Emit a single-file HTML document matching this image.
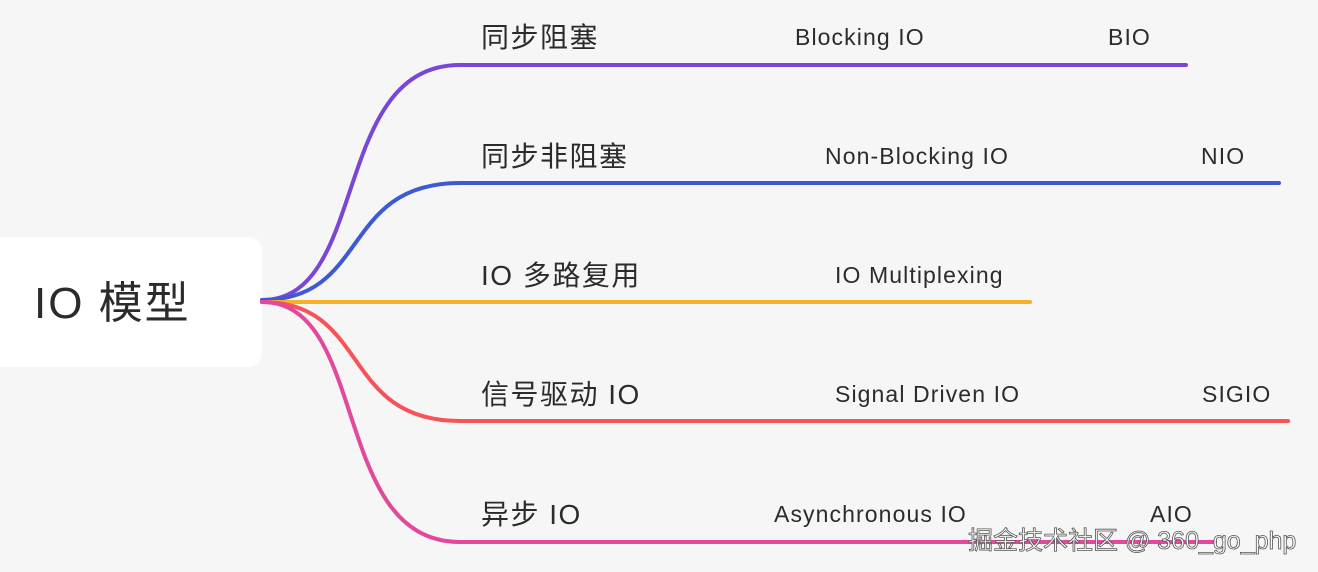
<!DOCTYPE html>
<html><head><meta charset="utf-8"><style>
body{margin:0;background:#f6f6f6;}
svg{display:block}
text{font-family:"Liberation Sans","Noto Sans CJK SC",sans-serif;fill:#2b2b2b}
.z{font-size:28px;letter-spacing:1.5px}
.e{font-size:23px;letter-spacing:1.1px}
</style></head><body>
<svg width="1318" height="572" viewBox="0 0 1318 572">
<rect x="-20" y="237" width="282" height="130" rx="14" fill="#fff"/>
<text x="34" y="318" style="font-size:44px;letter-spacing:2px">IO 模型</text>
<g fill="none" stroke-width="4" stroke-linecap="round">
<path d="M262,300 C370,300 330,65 460,65 L1186,65" stroke="#7a46d8"/>
<path d="M262,300 C370,300 340,183 460,183 L1279,183" stroke="#3e5ad2"/>
<path d="M262,302 L1030,302" stroke="#f6b02a"/>
<path d="M262,302 C370,302 340,421 460,421 L1288,421" stroke="#f65257"/>
<path d="M262,302 C370,302 330,542 460,542 L1215,542" stroke="#e2489c"/>
</g>
<text class="z" x="481" y="47">同步阻塞</text>
<text class="e" x="795" y="45">Blocking IO</text>
<text class="e" x="1108" y="45">BIO</text>
<text class="z" x="481" y="166">同步非阻塞</text>
<text class="e" x="825" y="164">Non-Blocking IO</text>
<text class="e" x="1201" y="164">NIO</text>
<text class="z" x="481" y="285">IO 多路复用</text>
<text class="e" x="835" y="283">IO Multiplexing</text>
<text class="z" x="481" y="404">信号驱动 IO</text>
<text class="e" x="835" y="402">Signal Driven IO</text>
<text class="e" x="1202" y="402">SIGIO</text>
<text class="z" x="481" y="524">异步 IO</text>
<text class="e" x="774" y="522">Asynchronous IO</text>
<text class="e" x="1150" y="522">AIO</text>
<text x="968" y="549" style="font-size:25px;fill:#fff;stroke:#555;stroke-width:0.8">掘金技术社区 @ 360_go_php</text>
</svg>
</body></html>
